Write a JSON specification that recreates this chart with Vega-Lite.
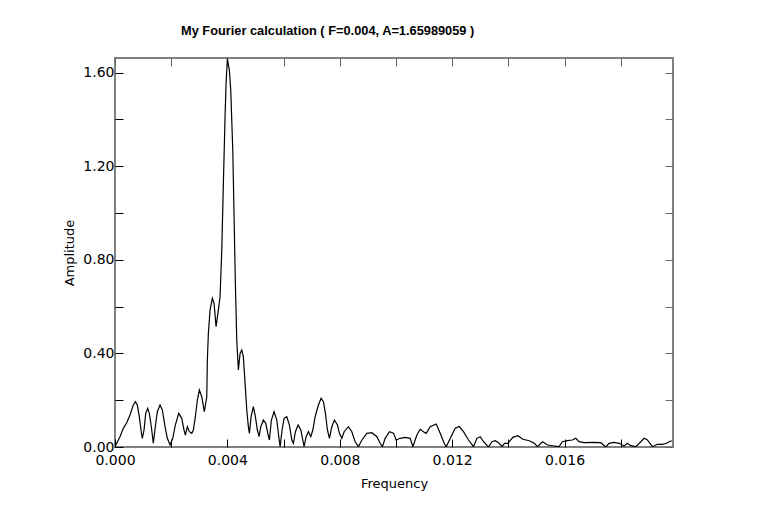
{
  "$schema": "https://vega.github.io/schema/vega-lite/v6.json",
  "width": 558,
  "height": 389,
  "autosize": {"type": "none"},
  "padding": {"left": 115, "top": 58, "right": 84, "bottom": 75},
  "background": "white",
  "config": {
    "view": {"stroke": "#808080", "strokeWidth": 2},
    "font": "DejaVu Sans"
  },
  "title": {
    "text": "My Fourier calculation ( F=0.004, A=1.65989059 )",
    "anchor": "start",
    "frame": "group",
    "dx": 66,
    "offset": 20,
    "fontSize": 12.8,
    "fontWeight": "bold",
    "font": "Liberation Sans",
    "color": "black"
  },
  "data": {
    "values": [
      {"f": 0, "a": 0},
      {"f": 0.0000605, "a": 0.0158},
      {"f": 0.000178, "a": 0.044},
      {"f": 0.000296, "a": 0.0798},
      {"f": 0.000417, "a": 0.1038},
      {"f": 0.000534, "a": 0.1366},
      {"f": 0.000652, "a": 0.1793},
      {"f": 0.000723, "a": 0.1934},
      {"f": 0.000794, "a": 0.1793},
      {"f": 0.000865, "a": 0.1294},
      {"f": 0.000926, "a": 0.0726},
      {"f": 0.000972, "a": 0.0371},
      {"f": 0.001033, "a": 0.0726},
      {"f": 0.001093, "a": 0.1439},
      {"f": 0.001165, "a": 0.1652},
      {"f": 0.001222, "a": 0.1439},
      {"f": 0.001293, "a": 0.0867},
      {"f": 0.001364, "a": 0.0158},
      {"f": 0.001435, "a": 0.0867},
      {"f": 0.001506, "a": 0.1507},
      {"f": 0.001603, "a": 0.1793},
      {"f": 0.001685, "a": 0.158},
      {"f": 0.001781, "a": 0.0867},
      {"f": 0.001863, "a": 0.0371},
      {"f": 0.001959, "a": 0.0085},
      {"f": 0.002055, "a": 0.0371},
      {"f": 0.002147, "a": 0.0939},
      {"f": 0.002269, "a": 0.1439},
      {"f": 0.002375, "a": 0.1225},
      {"f": 0.002457, "a": 0.0726},
      {"f": 0.002504, "a": 0.0512},
      {"f": 0.002575, "a": 0.0867},
      {"f": 0.002646, "a": 0.0653},
      {"f": 0.002732, "a": 0.0585},
      {"f": 0.002789, "a": 0.0726},
      {"f": 0.00286, "a": 0.1294},
      {"f": 0.002931, "a": 0.2007},
      {"f": 0.003002, "a": 0.2434},
      {"f": 0.003088, "a": 0.2148},
      {"f": 0.00318, "a": 0.1507},
      {"f": 0.003266, "a": 0.2148},
      {"f": 0.003287, "a": 0.3715},
      {"f": 0.003323, "a": 0.4855},
      {"f": 0.003383, "a": 0.585},
      {"f": 0.003465, "a": 0.6349},
      {"f": 0.003526, "a": 0.6136},
      {"f": 0.003597, "a": 0.5137},
      {"f": 0.003679, "a": 0.585},
      {"f": 0.003739, "a": 0.6418},
      {"f": 0.0038, "a": 0.8412},
      {"f": 0.003857, "a": 1.126},
      {"f": 0.003917, "a": 1.4104},
      {"f": 0.003953, "a": 1.553},
      {"f": 0.004, "a": 1.6599},
      {"f": 0.004071, "a": 1.6098},
      {"f": 0.00412, "a": 1.5244},
      {"f": 0.004192, "a": 1.2682},
      {"f": 0.004238, "a": 0.9834},
      {"f": 0.004284, "a": 0.699},
      {"f": 0.004334, "a": 0.4569},
      {"f": 0.004391, "a": 0.3288},
      {"f": 0.004452, "a": 0.4001},
      {"f": 0.004512, "a": 0.4142},
      {"f": 0.004569, "a": 0.3856},
      {"f": 0.00463, "a": 0.272},
      {"f": 0.00469, "a": 0.158},
      {"f": 0.004747, "a": 0.0867},
      {"f": 0.004783, "a": 0.0585},
      {"f": 0.004843, "a": 0.1294},
      {"f": 0.004925, "a": 0.1721},
      {"f": 0.004996, "a": 0.1294},
      {"f": 0.005068, "a": 0.0726},
      {"f": 0.005128, "a": 0.044},
      {"f": 0.005189, "a": 0.0867},
      {"f": 0.005281, "a": 0.1153},
      {"f": 0.005367, "a": 0.1012},
      {"f": 0.005438, "a": 0.0585},
      {"f": 0.005495, "a": 0.0299},
      {"f": 0.005566, "a": 0.1153},
      {"f": 0.005662, "a": 0.1507},
      {"f": 0.005759, "a": 0.1153},
      {"f": 0.00583, "a": 0.044},
      {"f": 0.005876, "a": 0.0013},
      {"f": 0.005947, "a": 0.0726},
      {"f": 0.006019, "a": 0.1225},
      {"f": 0.006115, "a": 0.1294},
      {"f": 0.006207, "a": 0.0939},
      {"f": 0.006293, "a": 0.0299},
      {"f": 0.00635, "a": 0.0158},
      {"f": 0.006421, "a": 0.0653},
      {"f": 0.006517, "a": 0.0939},
      {"f": 0.006613, "a": 0.0726},
      {"f": 0.006684, "a": 0.0299},
      {"f": 0.006731, "a": 0.0013},
      {"f": 0.006802, "a": 0.044},
      {"f": 0.006884, "a": 0.0653},
      {"f": 0.006969, "a": 0.044},
      {"f": 0.007041, "a": 0.0726},
      {"f": 0.007123, "a": 0.1294},
      {"f": 0.00724, "a": 0.1793},
      {"f": 0.007336, "a": 0.2079},
      {"f": 0.007418, "a": 0.1934},
      {"f": 0.007489, "a": 0.1439},
      {"f": 0.007561, "a": 0.0726},
      {"f": 0.007632, "a": 0.0371},
      {"f": 0.007717, "a": 0.0867},
      {"f": 0.00781, "a": 0.1153},
      {"f": 0.007917, "a": 0.0939},
      {"f": 0.007988, "a": 0.0585},
      {"f": 0.008073, "a": 0.0371},
      {"f": 0.008155, "a": 0.0653},
      {"f": 0.008308, "a": 0.0867},
      {"f": 0.008429, "a": 0.0653},
      {"f": 0.008547, "a": 0.0226},
      {"f": 0.008665, "a": 0.0013},
      {"f": 0.008786, "a": 0.0299},
      {"f": 0.008964, "a": 0.0585},
      {"f": 0.009142, "a": 0.0611},
      {"f": 0.00932, "a": 0.044},
      {"f": 0.009437, "a": 0.0158},
      {"f": 0.009519, "a": 0.0013},
      {"f": 0.009615, "a": 0.0371},
      {"f": 0.009769, "a": 0.0653},
      {"f": 0.009911, "a": 0.0585},
      {"f": 0.010007, "a": 0.0299},
      {"f": 0.01015, "a": 0.0371},
      {"f": 0.010328, "a": 0.0414},
      {"f": 0.010506, "a": 0.0371},
      {"f": 0.010602, "a": 0.0013},
      {"f": 0.010744, "a": 0.0512},
      {"f": 0.010862, "a": 0.0756},
      {"f": 0.010979, "a": 0.0653},
      {"f": 0.011075, "a": 0.0585},
      {"f": 0.011218, "a": 0.0867},
      {"f": 0.011432, "a": 0.0982},
      {"f": 0.011574, "a": 0.0585},
      {"f": 0.011717, "a": 0.0158},
      {"f": 0.011788, "a": 0.0013},
      {"f": 0.011905, "a": 0.0299},
      {"f": 0.012108, "a": 0.0798},
      {"f": 0.012251, "a": 0.0875},
      {"f": 0.012404, "a": 0.0653},
      {"f": 0.012582, "a": 0.0299},
      {"f": 0.01276, "a": 0.0013},
      {"f": 0.012881, "a": 0.0371},
      {"f": 0.012999, "a": 0.044},
      {"f": 0.013116, "a": 0.0226},
      {"f": 0.013294, "a": 0},
      {"f": 0.013415, "a": 0.0226},
      {"f": 0.013533, "a": 0.0269},
      {"f": 0.01365, "a": 0.0184},
      {"f": 0.013771, "a": 0.0013},
      {"f": 0.013864, "a": 0.0158},
      {"f": 0.013981, "a": 0.0158},
      {"f": 0.01416, "a": 0.0414},
      {"f": 0.014338, "a": 0.0482},
      {"f": 0.014516, "a": 0.0329},
      {"f": 0.014744, "a": 0.0269},
      {"f": 0.014922, "a": 0.0158},
      {"f": 0.015039, "a": 0.0013},
      {"f": 0.015217, "a": 0.0226},
      {"f": 0.015395, "a": 0.0085},
      {"f": 0.015627, "a": 0.0043},
      {"f": 0.015805, "a": 0.0013},
      {"f": 0.015922, "a": 0.0226},
      {"f": 0.0161, "a": 0.0269},
      {"f": 0.016279, "a": 0.0299},
      {"f": 0.0164, "a": 0.0371},
      {"f": 0.016517, "a": 0.0226},
      {"f": 0.016695, "a": 0.0184},
      {"f": 0.016991, "a": 0.0201},
      {"f": 0.01729, "a": 0.0184},
      {"f": 0.017468, "a": 0},
      {"f": 0.017585, "a": 0.0158},
      {"f": 0.017764, "a": 0.0201},
      {"f": 0.017942, "a": 0.0158},
      {"f": 0.01812, "a": 0.0043},
      {"f": 0.018237, "a": 0.0158},
      {"f": 0.018358, "a": 0.0056},
      {"f": 0.018536, "a": 0.0013},
      {"f": 0.018714, "a": 0.0226},
      {"f": 0.018832, "a": 0.0371},
      {"f": 0.018949, "a": 0.0299},
      {"f": 0.019128, "a": 0.0013},
      {"f": 0.019306, "a": 0.0115},
      {"f": 0.019484, "a": 0.0115},
      {"f": 0.019626, "a": 0.0158},
      {"f": 0.019722, "a": 0.0226},
      {"f": 0.019818, "a": 0.0269}
    ]
  },
  "layer": [
    {
      "mark": {"type": "line", "color": "black", "strokeWidth": 1.2, "clip": true},
      "encoding": {
        "x": {
          "field": "f", "type": "quantitative",
          "scale": {"domain": [0, 0.01986], "nice": false, "zero": false},
          "axis": {
            "orient": "bottom",
            "values": [0, 0.002, 0.004, 0.006, 0.008, 0.01, 0.012, 0.014, 0.016, 0.018],
            "labelExpr": "(round(datum.value*1000) % 4 == 0) ? format(datum.value, '.3f') : ''",
            "domain": false, "grid": false,
            "tickSize": -8, "tickColor": "black", "tickWidth": 1,
            "labelPadding": 14, "labelFontSize": 14, "labelFont": "DejaVu Sans", "labelColor": "black",
            "labelFlush": false, "labelOverlap": false, "labelBaseline": "top",
            "title": "Frequency", "titleFontSize": 13, "titleFontWeight": "normal",
            "titleFont": "DejaVu Sans", "titleColor": "black", "titlePadding": 10
          }
        },
        "y": {
          "field": "a", "type": "quantitative",
          "scale": {"domain": [0, 1.662], "nice": false, "zero": false},
          "axis": {
            "orient": "left",
            "values": [0, 0.2, 0.4, 0.6, 0.8, 1.0, 1.2, 1.4, 1.6],
            "labelExpr": "(round(datum.value*10) % 4 == 0) ? format(datum.value, '.2f') : ''",
            "domain": false, "grid": false,
            "tickSize": -8, "tickColor": "black", "tickWidth": 1,
            "labelPadding": 9, "labelFontSize": 14, "labelFont": "DejaVu Sans", "labelColor": "black",
            "labelFlush": false, "labelOverlap": false,
            "title": "Amplitude", "titleFontSize": 13, "titleFontWeight": "normal",
            "titleFont": "DejaVu Sans", "titleColor": "black", "titlePadding": 6
          }
        }
      }
    },
    {
      "mark": {"type": "line", "strokeOpacity": 0},
      "encoding": {
        "x": {
          "field": "f", "type": "quantitative",
          "axis": {
            "orient": "top",
            "values": [0, 0.002, 0.004, 0.006, 0.008, 0.01, 0.012, 0.014, 0.016, 0.018],
            "labels": false, "domain": false, "grid": false, "title": null,
            "tickSize": -8, "tickColor": "#666666", "tickWidth": 1
          }
        },
        "y": {
          "field": "a", "type": "quantitative",
          "axis": {
            "orient": "right",
            "values": [0, 0.2, 0.4, 0.6, 0.8, 1.0, 1.2, 1.4, 1.6],
            "labels": false, "domain": false, "grid": false, "title": null,
            "tickSize": -8, "tickColor": "#666666", "tickWidth": 1
          }
        }
      }
    }
  ],
  "resolve": {"axis": {"x": "independent", "y": "independent"}}
}
